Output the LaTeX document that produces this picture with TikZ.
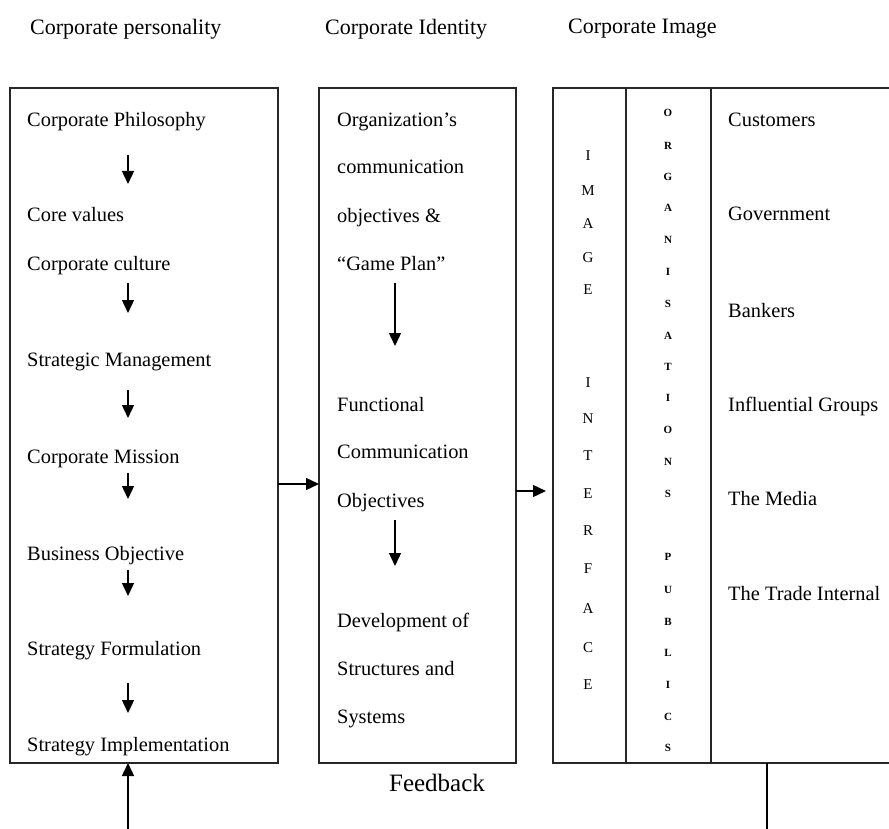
\documentclass[tikz,border=0pt]{standalone}
\usepackage{fontspec}
\setmainfont{Liberation Serif}
\usetikzlibrary{arrows.meta}
\begin{document}
\begin{tikzpicture}[x=1pt,y=-1pt,
  frame/.style={draw=black!85, line width=1.6pt, inner sep=0pt, outer sep=0pt},
  conn/.style={draw=black, line width=1.4pt, -{Triangle[length=13pt,width=12pt]}},
  plain/.style={draw=black, line width=1.4pt},
  head/.style={anchor=west, inner sep=0pt, font=\fontsize{22}{26}\selectfont},
  item/.style={anchor=west, inner sep=0pt, font=\fontsize{20.4}{24}\selectfont, text height=14pt, text depth=4pt},
  letter/.style={inner sep=0pt, font=\fontsize{15}{17}\selectfont, text height=10.5pt, text depth=0pt},
  bletter/.style={inner sep=0pt, font=\fontsize{11}{13}\selectfont\bfseries, text height=7.5pt, text depth=0pt},
]
\useasboundingbox (0,0) rectangle (889,829);
\clip (0,0) rectangle (889,829);

% column headings
\node[head] (h1) at (30,29) {Corporate personality};
\node[head] (h2) at (325,29) {Corporate Identity};
\node[head] (h3) at (568,29) {Corporate Image};

% the three panels
\node[frame, minimum width=268pt, minimum height=675pt] (pers) at (144,425.5) {};
\node[frame, minimum width=197pt, minimum height=675pt] (iden) at (417.5,425.5) {};
\node[frame, minimum width=400pt, minimum height=675pt] (imag) at (753,425.5) {};

% column dividers inside the image panel
\coordinate (d1) at (626,0);
\coordinate (d2) at (711,0);
\draw[frame] (imag.north -| d1) -- (imag.south -| d1);
\draw[frame] (imag.north -| d2) -- (imag.south -| d2);

% links between panels
\coordinate (l1) at (0,484);
\draw[conn] (pers.east |- l1) -- (iden.west |- l1);
\coordinate (l2) at (546,491);
\draw[conn] (iden.east |- l2) -- (l2);

% feedback loop
\coordinate (fb1) at (128,829);
\draw[conn] (fb1) -- (pers.south -| fb1);
\coordinate (fb2) at (767,829);
\draw[plain] (imag.south -| fb2) -- (fb2);
\node[inner sep=0pt, font=\fontsize{25}{30}\selectfont] (fb) at (437,783) {Feedback};

% corporate personality chain
\node[item] (p1) at (27,122) {Corporate Philosophy};
\node[item] (p2) at (27,217) {Core values};
\node[item] (p3) at (27,265) {Corporate culture};
\node[item] (p4) at (27,361) {Strategic Management};
\node[item] (p5) at (27,458) {Corporate Mission};
\node[item] (p6) at (27,555) {Business Objective};
\node[item] (p7) at (27,650) {Strategy Formulation};
\node[item] (p8) at (27,746) {Strategy Implementation};
\foreach \i/\a/\b in {1/155/184, 2/283/313, 3/390/418, 4/473/499, 5/570/596, 6/683/713} {
  \coordinate (pa\i) at (128,\a);
  \coordinate (pb\i) at (128,\b);
  \draw[conn] (pa\i) -- (pb\i);
}

% corporate identity chain
\node[item] (i1) at (337,122) {Organization’s};
\node[item] (i2) at (337,169) {communication};
\node[item] (i3) at (337,218) {objectives \&};
\node[item] (i4) at (337,265) {“Game Plan”};
\node[item] (i5) at (337,406) {Functional};
\node[item] (i6) at (337,453) {Communication};
\node[item] (i7) at (337,502) {Objectives};
\node[item] (i8) at (337,622) {Development of};
\node[item] (i9) at (337,670) {Structures and};
\node[item] (i10) at (337,718) {Systems};
\coordinate (ia1) at (395,283);
\coordinate (ib1) at (395,346);
\draw[conn] (ia1) -- (ib1);
\coordinate (ia2) at (395,520);
\coordinate (ib2) at (395,566);
\draw[conn] (ia2) -- (ib2);

% publics
\node[item] (r1) at (728,122) {Customers};
\node[item] (r2) at (728,216) {Government};
\node[item] (r3) at (728,312) {Bankers};
\node[item] (r4) at (728,406) {Influential Groups};
\node[item] (r5) at (728,500) {The Media};
\node[item] (r6) at (728,595) {The Trade Internal};

% vertical lettering: IMAGE INTERFACE
\foreach \ch/\y [count=\k] in {I/155, M/190, A/223, G/257, E/289, I/382, N/418, T/455, E/493, R/530, F/568, A/608, C/647, E/684} {
  \node[letter] (ii\k) at (588,\y) {\ch};
}
% vertical lettering: ORGANISATIONS PUBLICS
\foreach \ch/\y [count=\k] in {O/113, R/146, G/177, A/208, N/240, I/272, S/304, A/336, T/367, I/398, O/430, N/462, S/494, P/557, U/590, B/622, L/653, I/685, C/717, S/748} {
  \node[bletter] (op\k) at (668,\y) {\ch};
}
\end{tikzpicture}
\end{document}
